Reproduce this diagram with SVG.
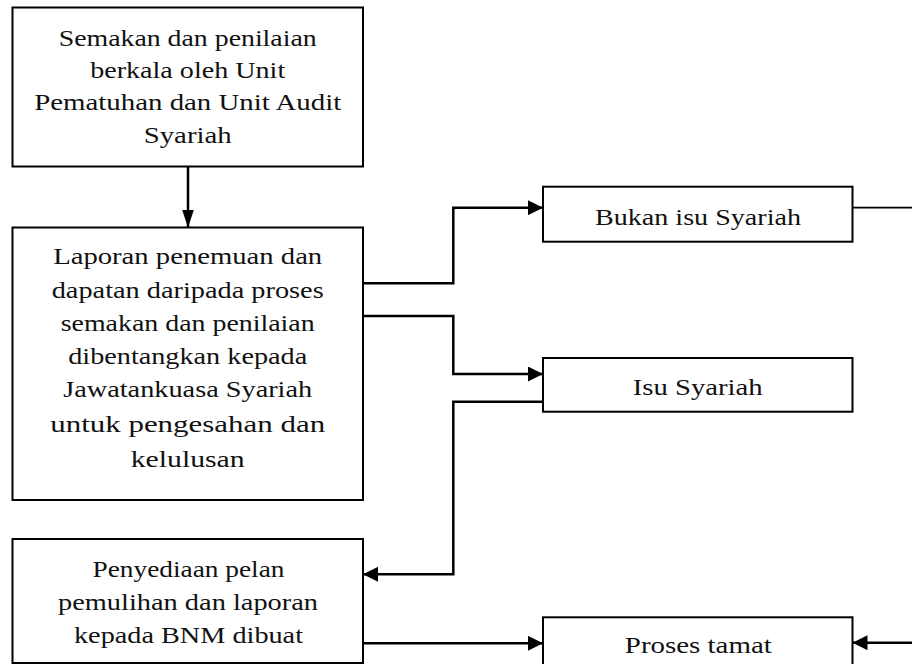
<svg xmlns="http://www.w3.org/2000/svg" width="912" height="664" viewBox="0 0 912 664">
  <style>
    .box { fill: #ffffff; stroke: #000000; stroke-width: 2; }
    .lbl { font-family: "Liberation Serif", "Times New Roman", serif; font-size: 24px; fill: #111111; text-anchor: middle; }
    .wire { fill: none; stroke: #000000; stroke-width: 2.5; }
    .thin { fill: none; stroke: #000000; stroke-width: 1.8; }
  </style>
  <defs>
    <marker id="arrow" markerUnits="userSpaceOnUse" markerWidth="15" markerHeight="15" refX="15" refY="7.5" orient="auto">
      <path d="M0,0 L15,7.5 L0,15 Z" fill="#000000"/>
    </marker>
    <marker id="arrowDown" markerUnits="userSpaceOnUse" markerWidth="18" markerHeight="12" refX="18" refY="6" orient="auto">
      <path d="M0,0 L18,6 L0,12 Z" fill="#000000"/>
    </marker>
  </defs>

  <rect width="912" height="664" fill="#ffffff"/>

  <!-- connectors -->
  <g id="connectors">
    <path class="wire" d="M188,166.5 V227.5" marker-end="url(#arrowDown)"/>
    <path class="wire" d="M363,283.3 H453.3 V207.7 H543" marker-end="url(#arrow)"/>
    <path class="wire" d="M363,316 H453.3 V374 H543" marker-end="url(#arrow)"/>
    <path class="wire" d="M543,401.7 H453.3 V574.3 H363" marker-end="url(#arrow)"/>
    <path class="wire" d="M363,643.3 H543" marker-end="url(#arrow)"/>
    <path class="thin" d="M852.5,207.7 H912"/>
    <path class="wire" d="M912,642.7 H852.5" marker-end="url(#arrow)"/>
  </g>

  <!-- review step -->
  <g id="semakan">
    <rect class="box" x="12.5" y="7.5" width="350.5" height="159"/>
    <text class="lbl" x="187.7" y="45.5" textLength="258" lengthAdjust="spacingAndGlyphs">Semakan dan penilaian</text>
    <text class="lbl" x="187.7" y="78" textLength="195" lengthAdjust="spacingAndGlyphs">berkala oleh Unit</text>
    <text class="lbl" x="187.7" y="110" textLength="307" lengthAdjust="spacingAndGlyphs">Pematuhan dan Unit Audit</text>
    <text class="lbl" x="187.7" y="142.5" textLength="88" lengthAdjust="spacingAndGlyphs">Syariah</text>
  </g>

  <!-- findings report -->
  <g id="laporan">
    <rect class="box" x="12.5" y="227.5" width="350.5" height="272.5"/>
    <text class="lbl" x="187.7" y="264.3" textLength="269" lengthAdjust="spacingAndGlyphs">Laporan penemuan dan</text>
    <text class="lbl" x="187.7" y="297.5" textLength="272" lengthAdjust="spacingAndGlyphs">dapatan daripada proses</text>
    <text class="lbl" x="187.7" y="330.5" textLength="254" lengthAdjust="spacingAndGlyphs">semakan dan penilaian</text>
    <text class="lbl" x="187.7" y="363.5" textLength="239" lengthAdjust="spacingAndGlyphs">dibentangkan kepada</text>
    <text class="lbl" x="187.7" y="397" textLength="249" lengthAdjust="spacingAndGlyphs">Jawatankuasa Syariah</text>
    <text class="lbl" x="187.7" y="431.5" textLength="275" lengthAdjust="spacingAndGlyphs">untuk pengesahan dan</text>
    <text class="lbl" x="187.7" y="467" textLength="114" lengthAdjust="spacingAndGlyphs">kelulusan</text>
  </g>

  <!-- recovery plan -->
  <g id="penyediaan">
    <rect class="box" x="12.5" y="539" width="350.5" height="124"/>
    <text class="lbl" x="188.5" y="576.7" textLength="192" lengthAdjust="spacingAndGlyphs">Penyediaan pelan</text>
    <text class="lbl" x="188" y="610" textLength="260" lengthAdjust="spacingAndGlyphs">pemulihan dan laporan</text>
    <text class="lbl" x="188.5" y="642.7" textLength="229" lengthAdjust="spacingAndGlyphs">kepada BNM dibuat</text>
  </g>

  <!-- outcome boxes -->
  <g id="bukan-isu">
    <rect class="box" x="543" y="186.7" width="309.5" height="55"/>
    <text class="lbl" x="698" y="225" textLength="206" lengthAdjust="spacingAndGlyphs">Bukan isu Syariah</text>
  </g>

  <g id="isu">
    <rect class="box" x="543" y="358" width="309.5" height="53.7"/>
    <text class="lbl" x="697.7" y="395" textLength="130" lengthAdjust="spacingAndGlyphs">Isu Syariah</text>
  </g>

  <g id="tamat">
    <rect class="box" x="543" y="617.3" width="309.5" height="60"/>
    <text class="lbl" x="698.3" y="653.3" textLength="147" lengthAdjust="spacingAndGlyphs">Proses tamat</text>
  </g>
</svg>
